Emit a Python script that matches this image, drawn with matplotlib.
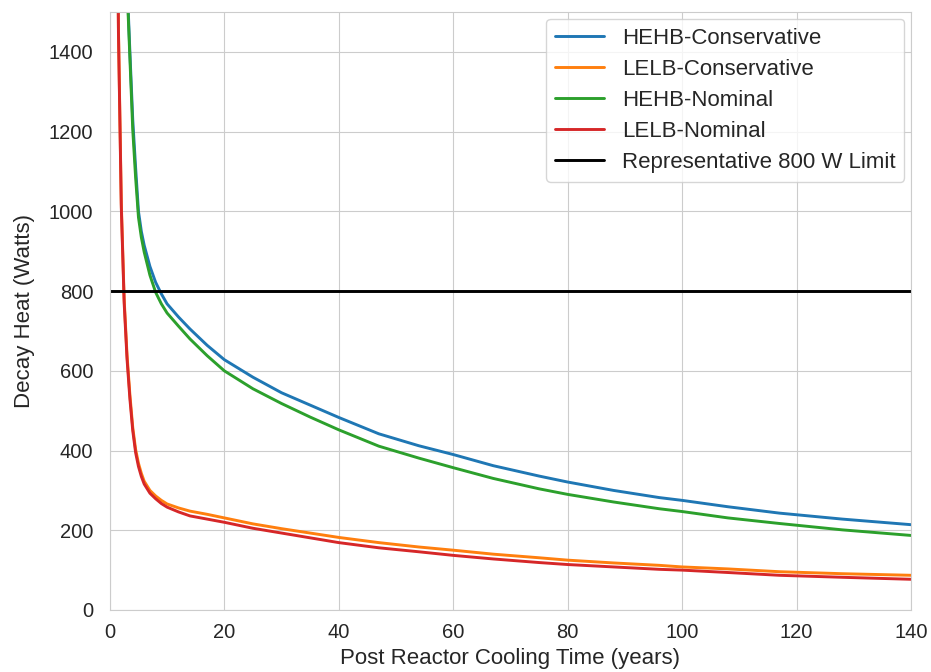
import numpy as np
import matplotlib
matplotlib.use("Agg")
import matplotlib.pyplot as plt
import seaborn as sns

# Decay heat vs. cooling time for the four burnup cases
years = [1.0, 1.5, 2.0, 2.5, 3.0, 3.5, 4.0, 4.5, 5.0, 5.5, 6.0, 7.0, 8.0, 9.0,
         10, 12, 14, 17, 20, 25, 30, 35, 40, 47, 54, 60, 67, 75, 80, 88, 96,
         100, 108, 117, 128, 140]

hehb_conservative = [4000, 3000, 2300, 1900, 1580, 1400, 1230, 1110, 1000, 950,
                     915, 862, 822, 793, 768, 735, 705, 664, 628, 584, 545, 514,
                     483, 442, 412, 390, 362, 336, 321, 300, 282, 275, 259, 243,
                     228, 214]
lelb_conservative = [2320, 1460, 1020, 780, 640, 540, 458, 403, 368, 343, 323,
                     300, 286, 275, 266, 256, 248, 240, 231, 216, 204, 193, 182,
                     169, 158, 150, 140, 131, 125, 118, 112, 108, 103, 96, 91, 87]
hehb_nominal = [4000, 3000, 2300, 1890, 1565, 1385, 1205, 1085, 985, 935, 898,
                840, 797, 768, 745, 712, 680, 638, 600, 555, 518, 484, 452, 411,
                381, 357, 330, 304, 290, 271, 254, 247, 231, 217, 201, 187]
lelb_nominal = [2300, 1450, 1010, 770, 630, 530, 450, 395, 360, 335, 316, 293,
                279, 267, 258, 246, 236, 228, 220, 205, 193, 181, 169, 156, 146,
                137, 128, 119, 114, 108, 102, 100, 94, 87, 82, 77]

heat_limit = 800

sns.set_style("whitegrid")
plt.rcParams['font.family'] = ['Liberation Sans', 'DejaVu Sans']

fig = plt.figure(figsize=(9.31, 6.72), dpi=100)
ax = fig.add_axes([0.118, 0.0923, 0.8605, 0.8897])

lw = 2.1
ax.plot(years, hehb_conservative, lw=lw, label='HEHB-Conservative')
ax.plot(years, lelb_conservative, lw=lw, label='LELB-Conservative')
ax.plot(years, hehb_nominal, lw=lw, label='HEHB-Nominal')
ax.plot(years, lelb_nominal, lw=lw, label='LELB-Nominal')
ax.axhline(heat_limit, color='black', lw=lw, label='Representative 800 W Limit')

ax.set_xlim(0, 140)
ax.set_ylim(0, 1500)
ax.set_yticks(np.arange(0, 1500, 200))
ax.tick_params(axis='both', labelsize=14.5)
ax.tick_params(axis='y', pad=8.5)
ax.tick_params(axis='x', pad=6)
ax.set_xlabel('Post Reactor Cooling Time (years)', fontsize=16, labelpad=4)
ax.set_ylabel('Decay Heat (Watts)', fontsize=16, labelpad=10)
ax.legend(loc='upper right', fontsize=16, labelspacing=0.45,
          borderaxespad=0.3, handlelength=2.2)

fig.savefig('out.png', dpi=100)
